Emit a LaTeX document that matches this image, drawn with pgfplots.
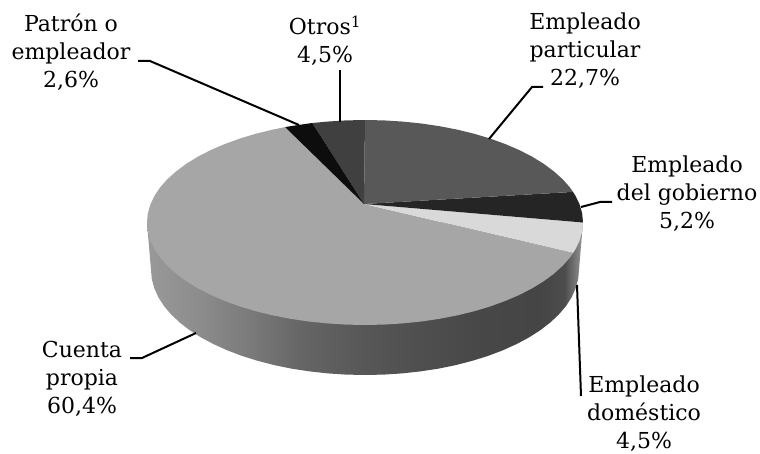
\documentclass[border=0pt]{standalone}
\usepackage{pgfplots}
\pgfplotsset{compat=1.18}
\usepackage{fontspec}
\setmainfont{DejaVu Serif}
\definecolor{cpar}{gray}{0.345}
\definecolor{cgob}{gray}{0.145}
\definecolor{cdom}{gray}{0.85}
\definecolor{ccue}{gray}{0.65}
\definecolor{cpat}{gray}{0.05}
\definecolor{cotr}{gray}{0.25}
\pgfdeclarehorizontalshading{pieside}{100bp}{
color(0bp)=(black!40!white);
color(25bp)=(black!40!white);
color(31bp)=(black!45!white);
color(36.8bp)=(black!52!white);
color(42.5bp)=(black!60!white);
color(50bp)=(black!66!white);
color(56.3bp)=(black!69!white);
color(63.2bp)=(black!72!white);
color(70bp)=(black!73!white);
color(72.9bp)=(black!70!white);
color(74bp)=(black!55!white);
color(75bp)=(black!40!white);
color(100bp)=(black!40!white)}
\newcommand{\lab}{\fontsize{22}{28}\selectfont}
\begin{document}
\begin{tikzpicture}
\path[use as bounding box] (0,0) rectangle (760pt,454pt);
\begin{axis}[at={(0,0)},anchor=south west,scale only axis,width=760pt,height=454pt,
  xmin=0,xmax=760,ymin=0,ymax=454,y dir=reverse,hide axis,clip=false]
% side wall
\addplot[draw=none,shading=pieside] coordinates {
(147,222.5)(151,270)(151.8,279.2)(154.3,288.2)(158.3,297.2)(163.9,305.9)(171.1,314.4)(179.7,322.5)(189.7,330.2)(201.1,337.5)(213.7,344.2)(227.4,350.4)(242.2,356.0)(258,360.9)(274.6,365.2)(291.8,368.7)(309.6,371.4)(327.8,373.4)(346.3,374.6)(365,375)(383.7,374.6)(402.2,373.4)(420.4,371.4)(438.2,368.7)(455.4,365.2)(472,360.9)(487.8,356.0)(502.6,350.4)(516.3,344.2)(528.9,337.5)(540.3,330.2)(550.3,322.5)(558.9,314.4)(566.1,305.9)(571.7,297.2)(575.7,288.2)(578.2,279.2)(579,270)(583,222.5)} -- cycle;
% Cuenta propia
\addplot[draw=none,fill=ccue] coordinates {
(364,204)(573.1,253.0)(569.9,257.6)(562.6,265.8)(553.8,273.8)(543.6,281.3)(532.0,288.4)(519.1,295.0)(505.1,301.0)(490.0,306.5)(474.0,311.3)(457.1,315.4)(439.6,318.8)(421.4,321.5)(402.8,323.4)(384.0,324.6)(365,325)(346.0,324.6)(327.2,323.4)(308.6,321.5)(290.4,318.8)(272.9,315.4)(256.0,311.3)(240.0,306.5)(224.9,301.0)(210.9,295.0)(198.0,288.4)(186.4,281.3)(176.2,273.8)(167.4,265.8)(160.1,257.6)(154.4,249.0)(150.3,240.3)(147.8,231.4)(147,222.5)(147.8,213.6)(150.3,204.7)(154.4,196.0)(160.1,187.4)(167.4,179.2)(176.2,171.3)(186.4,163.7)(198.0,156.6)(210.9,150.0)(224.9,144.0)(240.0,138.5)(256.0,133.7)(272.9,129.6)(285.1,127.1)} -- cycle;
% Empleado domestico
\addplot[draw=none,fill=cdom] coordinates {
(364,204)(583,222.5)(582.2,231.4)(579.7,240.3)(575.6,249.0)(573.1,253.0)} -- cycle;
% Empleado del gobierno
\addplot[draw=none,fill=cgob] coordinates {
(364,204)(573.0,191.9)(575.6,196.0)(579.7,204.7)(582.2,213.6)(583,222.5)} -- cycle;
% Empleado particular
\addplot[draw=none,fill=cpar] coordinates {
(364,204)(365,120.0)(384.0,120.4)(402.8,121.6)(421.4,123.5)(439.6,126.2)(457.1,129.6)(474.0,133.7)(490.0,138.5)(505.1,144.0)(519.1,150.0)(532.0,156.6)(543.6,163.7)(553.8,171.3)(562.6,179.2)(569.9,187.4)(573.0,191.9)} -- cycle;
% Otros
\addplot[draw=none,fill=cotr] coordinates {
(364,204)(312.3,123.0)(327.2,121.6)(346.0,120.4)(365,120.0)} -- cycle;
% Patron
\addplot[draw=none,fill=cpat] coordinates {
(364,204)(285.1,127.1)(290.4,126.2)(308.6,123.5)(312.3,123.0)} -- cycle;
% leaders
\addplot[black,line width=2pt] coordinates {(138,61)(150,61)(299,125)};
\addplot[black,line width=2pt] coordinates {(340,70)(340,122)};
\addplot[black,line width=2pt] coordinates {(489,139)(532,87)(543,87)};
\addplot[black,line width=2pt] coordinates {(581,207)(600,202)(612,202)};
\addplot[black,line width=2pt] coordinates {(577,285)(581,396)};
\addplot[black,line width=2pt] coordinates {(196,333)(142,358)(130,358)};
% labels
\node[align=center,font=\lab] at (axis cs:71,52.5) {Patrón o\\empleador\\2,6\%};
\node[align=center,font=\lab] at (axis cs:325,41) {Otros\textsuperscript{1}\\4,5\%};
\node[align=center,font=\lab] at (axis cs:585,51) {Empleado\\particular\\22,7\%};
\node[align=center,font=\lab] at (axis cs:687,194) {Empleado\\del gobierno\\5,2\%};
\node[align=center,font=\lab] at (axis cs:644,414) {Empleado\\doméstico\\4,5\%};
\node[align=center,font=\lab] at (axis cs:82,379) {Cuenta\\propia\\60,4\%};
\end{axis}
\end{tikzpicture}
\end{document}
